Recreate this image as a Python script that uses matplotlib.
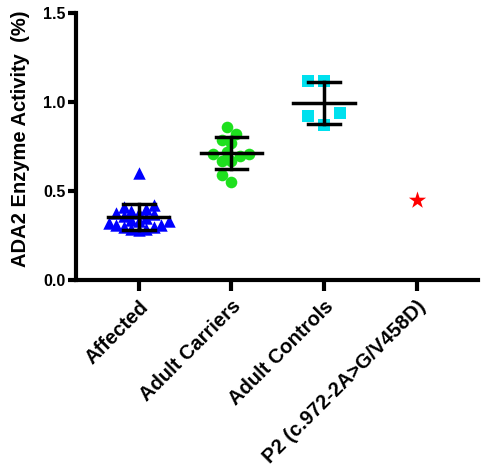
import matplotlib
matplotlib.use("Agg")
import matplotlib.pyplot as plt
import numpy as np

plt.rcParams["font.family"] = ["Liberation Sans", "DejaVu Sans"]
plt.rcParams["font.weight"] = "bold"

CATEGORIES = ["Affected", "Adult Carriers", "Adult Controls", "P2 (c.972-2A>G/V458D)"]

AFFECTED = [0.60, 0.42, 0.41, 0.40, 0.39, 0.38, 0.38, 0.37, 0.36, 0.35,
            0.34, 0.33, 0.33, 0.32, 0.31, 0.31, 0.30, 0.30, 0.29, 0.29, 0.28]
CARRIERS = [0.86, 0.82, 0.79, 0.77, 0.72, 0.71, 0.71, 0.70, 0.67, 0.67, 0.59, 0.55]
CONTROLS = [1.12, 1.12, 0.94, 0.92, 0.87]
P2 = [0.45]

GROUPS = [AFFECTED, CARRIERS, CONTROLS, P2]
MARKERS = ["^", "o", "s", "*"]
COLORS = ["#0000FF", "#1EE01E", "#00E0EE", "#FF0000"]
SIZES = [80, 70, 80, 170]
# minimum spacing (px) between swarm points in each group
SPACING = [7.5, 9.0, 16.0, 10.0]

# pixel scale of one data unit (x, y), used only for swarm spacing
PX_X, PX_Y = 93.0, 178.7


def swarm_offsets(values, diam):
  order = np.argsort(values)
  placed = []
  offsets = np.zeros(len(values))
  for i in order:
    y = values[i] * PX_Y
    k = 0
    while True:
      cands = [0.0] if k == 0 else [-k * diam * 0.5, k * diam * 0.5]
      ok = None
      for c in cands:
        if all((c - px) ** 2 + (y - py) ** 2 >= diam ** 2 for px, py in placed):
          ok = c
          break
      if ok is not None:
        placed.append((ok, y))
        offsets[i] = ok / PX_X
        break
      k += 1
  return offsets


def main():
  fig = plt.figure(figsize=(4.89, 4.71), dpi=100)
  ax = fig.add_axes([0.155, 0.405, 0.822, 0.567])

  for i, (vals, m, c, s, d) in enumerate(zip(GROUPS, MARKERS, COLORS, SIZES, SPACING)):
    vals = np.array(vals)
    xs = i + swarm_offsets(vals, d)
    ax.scatter(xs, vals, marker=m, color=c, s=s, linewidths=0, zorder=2)
    if len(vals) > 1:
      mean = vals.mean()
      sd = vals.std(ddof=1)
      ax.plot([i - 0.33, i + 0.33], [mean, mean], color="black", lw=2.5, zorder=3)
      ax.plot([i, i], [mean - sd, mean + sd], color="black", lw=2.5, zorder=3)
      for yv in (mean - sd, mean + sd):
        ax.plot([i - 0.17, i + 0.17], [yv, yv], color="black", lw=2.5, zorder=3)

  ax.set_xlim(-0.68, 3.66)
  ax.set_ylim(0, 1.5)
  ax.set_yticks([0.0, 0.5, 1.0, 1.5])
  ax.set_yticklabels(["0.0", "0.5", "1.0", "1.5"], fontsize=11.5, fontweight="bold")
  ax.set_xticks(range(len(CATEGORIES)))
  ax.set_xticklabels(CATEGORIES, rotation=45, ha="right", rotation_mode="anchor",
                     fontsize=14.5, fontweight="bold")
  ax.set_ylabel("ADA2 Enzyme Activity  (%)", fontsize=14.5, fontweight="bold")
  ax.yaxis.set_label_coords(-0.115, 0.53)

  for side in ["top", "right"]:
    ax.spines[side].set_visible(False)
  for side in ["left", "bottom"]:
    ax.spines[side].set_linewidth(3)
  ax.tick_params(axis="y", width=3, length=6, pad=1.5)
  ax.tick_params(axis="x", width=3, length=8, pad=4)

  fig.savefig("out.png", dpi=100)
  plt.close(fig)


if __name__ == "__main__":
  main()
